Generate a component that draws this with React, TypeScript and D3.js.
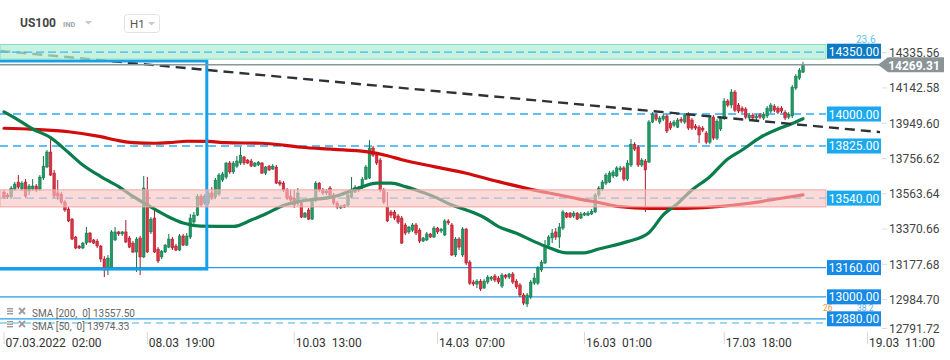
import { useEffect, useRef } from 'react';
import * as d3 from 'd3';

const width = 950;
const height = 360;

// US100 H1 candles from 07.03.2022 02:00, [open, high, low, close]
const candles: [number, number, number, number][] = [
  [13573, 13584, 13535, 13546], [13557, 13568, 13535, 13546], [13546, 13606, 13535, 13595], [13590, 13628, 13579, 13617],
  [13628, 13666, 13590, 13600], [13590, 13633, 13579, 13622], [13628, 13644, 13540, 13551], [13579, 13617, 13557, 13606],
  [13590, 13644, 13579, 13606], [13606, 13617, 13573, 13584], [13590, 13666, 13579, 13655], [13650, 13770, 13639, 13715],
  [13710, 13803, 13705, 13792], [13792, 13868, 13661, 13666], [13677, 13694, 13540, 13551], [13568, 13639, 13529, 13551],
  [13562, 13573, 13507, 13518], [13518, 13529, 13464, 13475], [13480, 13491, 13409, 13415], [13425, 13431, 13311, 13316],
  [13327, 13333, 13261, 13267], [13278, 13283, 13261, 13267], [13267, 13300, 13261, 13294], [13294, 13382, 13283, 13349],
  [13349, 13355, 13294, 13300], [13311, 13316, 13289, 13294], [13305, 13316, 13267, 13278], [13278, 13283, 13190, 13207],
  [13207, 13223, 13108, 13147], [13147, 13229, 13119, 13212], [13152, 13365, 13147, 13355], [13311, 13382, 13305, 13355],
  [13355, 13360, 13333, 13344], [13344, 13360, 13333, 13355], [13355, 13420, 13294, 13300], [13322, 13333, 13267, 13272],
  [13294, 13305, 13240, 13245], [13245, 13327, 13136, 13316], [13322, 13333, 13119, 13218], [13218, 13661, 13212, 13595],
  [13584, 13655, 13240, 13245], [13355, 13436, 13344, 13425], [13431, 13486, 13240, 13245], [13261, 13272, 13185, 13196],
  [13218, 13256, 13207, 13250], [13245, 13289, 13240, 13283], [13272, 13344, 13267, 13316], [13316, 13327, 13256, 13267],
  [13278, 13289, 13250, 13256], [13256, 13344, 13250, 13333], [13333, 13344, 13278, 13283], [13283, 13349, 13278, 13333],
  [13327, 13453, 13316, 13431], [13409, 13464, 13398, 13447], [13447, 13562, 13442, 13551], [13551, 13562, 13491, 13502],
  [13513, 13562, 13502, 13551], [13513, 13584, 13502, 13568], [13568, 13600, 13529, 13546], [13546, 13650, 13535, 13639],
  [13562, 13677, 13551, 13666], [13639, 13683, 13628, 13672], [13655, 13737, 13644, 13732], [13732, 13743, 13672, 13683],
  [13683, 13743, 13672, 13732], [13715, 13770, 13705, 13743], [13732, 13819, 13721, 13775], [13765, 13770, 13721, 13732],
  [13748, 13754, 13726, 13732], [13743, 13754, 13710, 13715], [13715, 13737, 13710, 13732], [13721, 13743, 13715, 13737],
  [13732, 13737, 13672, 13677], [13677, 13715, 13666, 13710], [13715, 13721, 13688, 13694], [13699, 13726, 13694, 13715],
  [13710, 13721, 13617, 13622], [13628, 13639, 13606, 13617], [13622, 13633, 13573, 13584], [13584, 13595, 13529, 13540],
  [13551, 13584, 13513, 13529], [13540, 13584, 13486, 13502], [13513, 13595, 13497, 13568], [13513, 13524, 13431, 13436],
  [13436, 13464, 13431, 13458], [13475, 13486, 13420, 13425], [13425, 13540, 13420, 13529], [13529, 13633, 13518, 13622],
  [13622, 13628, 13573, 13584], [13584, 13595, 13557, 13568], [13568, 13590, 13557, 13579], [13595, 13606, 13546, 13557],
  [13557, 13568, 13502, 13513], [13513, 13524, 13480, 13491], [13486, 13502, 13480, 13497], [13502, 13507, 13486, 13491],
  [13502, 13568, 13491, 13557], [13546, 13655, 13540, 13584], [13573, 13611, 13568, 13600], [13600, 13606, 13573, 13584],
  [13600, 13655, 13590, 13644], [13644, 13721, 13639, 13710], [13650, 13857, 13644, 13814], [13814, 13825, 13765, 13775],
  [13775, 13786, 13721, 13732], [13748, 13759, 13573, 13584], [13584, 13595, 13507, 13518], [13491, 13573, 13409, 13415],
  [13464, 13475, 13431, 13447], [13464, 13475, 13420, 13431], [13442, 13453, 13398, 13409], [13431, 13442, 13289, 13294],
  [13393, 13404, 13338, 13349], [13355, 13387, 13344, 13382], [13365, 13404, 13355, 13393], [13393, 13404, 13338, 13349],
  [13365, 13376, 13294, 13305], [13305, 13327, 13300, 13322], [13311, 13355, 13305, 13344], [13344, 13349, 13322, 13327],
  [13327, 13387, 13322, 13376], [13376, 13382, 13344, 13355], [13360, 13376, 13349, 13371], [13338, 13425, 13333, 13415],
  [13415, 13425, 13393, 13404], [13393, 13404, 13223, 13229], [13229, 13327, 13218, 13316], [13316, 13327, 13256, 13272],
  [13229, 13382, 13218, 13371], [13371, 13376, 13174, 13185], [13190, 13201, 13065, 13075], [13081, 13092, 13059, 13070],
  [13070, 13097, 13048, 13086], [13086, 13097, 13032, 13043], [13048, 13097, 13043, 13086], [13081, 13119, 13070, 13108],
  [13097, 13114, 13086, 13108], [13114, 13125, 13081, 13092], [13103, 13114, 13070, 13081], [13059, 13130, 13048, 13119],
  [13119, 13125, 13097, 13108], [13108, 13130, 13097, 13125], [13125, 13136, 13070, 13081], [13086, 13097, 13043, 13054],
  [13065, 13075, 12999, 13010], [13010, 13021, 12955, 12966], [12961, 13021, 12944, 13010], [12999, 13092, 12988, 13081],
  [13075, 13130, 13065, 13103], [13075, 13168, 13065, 13157], [13147, 13201, 13136, 13190], [13185, 13311, 13179, 13283],
  [13283, 13338, 13272, 13327], [13322, 13371, 13294, 13349], [13355, 13376, 13311, 13327], [13327, 13404, 13267, 13382],
  [13376, 13475, 13365, 13464], [13458, 13464, 13431, 13436], [13458, 13464, 13431, 13436], [13442, 13469, 13431, 13458],
  [13458, 13464, 13420, 13425], [13431, 13464, 13425, 13453], [13447, 13464, 13442, 13458], [13447, 13469, 13442, 13458],
  [13453, 13480, 13447, 13469], [13464, 13568, 13458, 13557], [13557, 13606, 13546, 13595], [13590, 13639, 13579, 13628],
  [13622, 13677, 13611, 13666], [13628, 13688, 13622, 13677], [13661, 13694, 13650, 13683], [13661, 13715, 13655, 13705],
  [13694, 13715, 13683, 13705], [13705, 13715, 13633, 13644], [13644, 13748, 13633, 13732], [13721, 13863, 13710, 13835],
  [13835, 13846, 13797, 13808], [13819, 13830, 13710, 13721], [13721, 13759, 13710, 13748], [13743, 13754, 13464, 13694],
  [13737, 13967, 13732, 13956], [13956, 14010, 13950, 13999], [13994, 14005, 13961, 13972], [13956, 13989, 13945, 13978],
  [13972, 13999, 13961, 13989], [13989, 13999, 13896, 13907], [13950, 13961, 13912, 13923], [13939, 13967, 13928, 13956],
  [13928, 13978, 13923, 13967], [13972, 13983, 13950, 13961], [13956, 14005, 13945, 13994], [13999, 14010, 13912, 13923],
  [13967, 13978, 13912, 13923], [13934, 13945, 13912, 13923], [13928, 13939, 13841, 13885], [13923, 13934, 13901, 13912],
  [13896, 13907, 13835, 13846], [13846, 13989, 13835, 13978], [13983, 13994, 13857, 13868], [13868, 13972, 13857, 13961],
  [13918, 13989, 13907, 13978], [13978, 14087, 13967, 14071], [14071, 14082, 14038, 14049], [14049, 14136, 14032, 14120],
  [14120, 14131, 14010, 14021], [14049, 14060, 14005, 14016], [14032, 14043, 14005, 14016], [14027, 14038, 13972, 13983],
  [13978, 14005, 13967, 13994], [13994, 14005, 13967, 13978], [13978, 13999, 13967, 13989], [13994, 14005, 13972, 13983],
  [13978, 14010, 13967, 13999], [13989, 14043, 13978, 14032], [14016, 14060, 14005, 14049], [14043, 14054, 14010, 14021],
  [14032, 14043, 13999, 14010], [14032, 14043, 14005, 14016], [14010, 14021, 13967, 13978], [13983, 14010, 13972, 13999],
  [13989, 14158, 13978, 14147], [14142, 14218, 14131, 14207], [14196, 14251, 14186, 14240], [14229, 14284, 14224, 14269.31],
];

// moving averages at these bar positions
const sma200Bars = [0, 8, 18, 27, 32, 36, 42, 46, 51, 57, 62, 72, 78, 83, 92, 101, 107, 111, 120, 129, 138, 148, 155, 161, 166, 172, 180, 190, 199, 208, 217, 223];
const sma200Vals = [13922, 13916, 13903, 13876, 13854, 13843, 13840, 13843, 13851, 13850, 13843, 13840, 13830, 13818, 13807, 13794, 13772, 13750, 13712, 13676, 13630, 13584, 13557, 13533, 13516, 13493, 13484, 13484, 13493, 13512, 13539, 13557.5];
const sma50Bars = [0, 4, 8, 13, 18, 22, 27, 32, 36, 41, 46, 50, 55, 64, 69, 73, 78, 83, 92, 99, 104, 108, 112, 115, 120, 125, 129, 134, 138, 143, 148, 152, 157, 162, 166, 174, 180, 184, 188, 192, 197, 202, 206, 211, 216, 220, 223];
const sma50Vals = [14012, 13967, 13918, 13871, 13789, 13721, 13658, 13603, 13549, 13491, 13437, 13404, 13387, 13385, 13420, 13453, 13500, 13524, 13548, 13595, 13622, 13622, 13603, 13584, 13548, 13502, 13475, 13434, 13384, 13348, 13302, 13270, 13240, 13241, 13262, 13302, 13351, 13448, 13510, 13584, 13657, 13754, 13803, 13871, 13918, 13948, 13974.33];

const priceTicks = [14335.56, 14142.58, 13949.6, 13756.62, 13563.64, 13370.66, 13177.68, 12984.7, 12791.72];
const timeLabels = ['07.03.2022  02:00', '08.03  19:00', '10.03  13:00', '14.03  07:00', '16.03  01:00', '17.03  18:00', '19.03  11:00'];
const timeBars = [0, 40, 81, 121, 162, 201, 241];

const resistance = 14350;
const dashedLevels = [14000, 13825, 13540];
const solidLevels = [13160, 13000, 12880];
const lastPrice = 14269.31;
const greenZone = [14300, 14380];
const redZone = [13492, 13585];
const fibValues = [14338, 12857];
const fibNames = ['23.6', '38.2'];
const trendBars = [-1, 244.5];
const trendPrices = [14345, 13901];
const boxBars = [-2, 56.6];
const boxPrices = [14290, 13152];

const font = 'Roboto, "Noto Sans", sans-serif';

export default function App() {
  const svgRef = useRef<SVGSVGElement>(null);

  useEffect(() => {
    if (!svgRef.current) return;
    const svg = d3.select(svgRef.current);
    svg.selectAll('*').remove();

    const plotRight = 826;
    const x = d3.scaleLinear().domain([0, candles.length - 1]).range([4, 803]);
    const y = d3.scaleLinear().domain([13000, 14000]).range([296.85, 114]);

    svg.append('rect').attr('width', width).attr('height', height).attr('fill', '#fff');

    // price levels
    dashedLevels.forEach(v => {
      svg.append('line')
        .attr('x1', 0).attr('x2', plotRight)
        .attr('y1', y(v)).attr('y2', y(v))
        .attr('stroke', '#2eacef').attr('stroke-width', 1.3)
        .attr('stroke-dasharray', '8,5');
    });
    solidLevels.forEach(v => {
      svg.append('line')
        .attr('x1', 0).attr('x2', plotRight)
        .attr('y1', y(v)).attr('y2', y(v))
        .attr('stroke', '#2a9be9').attr('stroke-width', 1.3);
    });
    svg.append('line')
      .attr('x1', 0).attr('x2', plotRight)
      .attr('y1', y(fibValues[1])).attr('y2', y(fibValues[1]))
      .attr('stroke', '#3fb6ee').attr('stroke-width', 1.2)
      .attr('stroke-dasharray', '7,5');

    // candles
    const bw = 2.6;
    const g = svg.append('g');
    candles.forEach((d, i) => {
      const [o, h, l, c] = d;
      const up = c >= o;
      const cx = x(i);
      g.append('line')
        .attr('x1', cx).attr('x2', cx)
        .attr('y1', y(h)).attr('y2', y(l))
        .attr('stroke', up ? '#0e7347' : '#a8182a').attr('stroke-width', 1);
      g.append('rect')
        .attr('x', cx - bw / 2)
        .attr('y', y(Math.max(o, c)))
        .attr('width', bw)
        .attr('height', Math.max(1, Math.abs(y(o) - y(c))))
        .attr('fill', up ? '#1f9a66' : '#df3140')
        .attr('stroke', up ? '#0e7347' : '#a8182a')
        .attr('stroke-width', 0.5);
    });

    // SMA lines
    const smaLine = d3.line<number>()
      .curve(d3.curveMonotoneX);
    svg.append('path')
      .attr('d', smaLine.x(b => x(b)).y((_, i) => y(sma200Vals[i]))(sma200Bars))
      .attr('fill', 'none').attr('stroke', '#d10c0c').attr('stroke-width', 3.2)
      .attr('stroke-linecap', 'round');
    svg.append('path')
      .attr('d', smaLine.x(b => x(b)).y((_, i) => y(sma50Vals[i]))(sma50Bars))
      .attr('fill', 'none').attr('stroke', '#0a7d4d').attr('stroke-width', 3.2)
      .attr('stroke-linecap', 'round');

    // trend line
    svg.append('line')
      .attr('x1', x(trendBars[0])).attr('y1', y(trendPrices[0]))
      .attr('x2', x(trendBars[1])).attr('y2', y(trendPrices[1]))
      .attr('stroke', '#2c3235').attr('stroke-width', 2.4)
      .attr('stroke-dasharray', '10,6');

    // range box
    svg.append('rect')
      .attr('x', x(boxBars[0])).attr('y', y(boxPrices[0]))
      .attr('width', x(boxBars[1]) - x(boxBars[0]))
      .attr('height', y(boxPrices[1]) - y(boxPrices[0]))
      .attr('fill', 'none').attr('stroke', '#15a0ea').attr('stroke-width', 3);

    // zones
    svg.append('rect')
      .attr('x', 0).attr('y', y(redZone[1]))
      .attr('width', plotRight).attr('height', y(redZone[0]) - y(redZone[1]))
      .attr('fill', 'rgb(248,196,196)').attr('fill-opacity', 0.62)
      .attr('stroke', '#f3a3a3').attr('stroke-width', 1);
    svg.append('rect')
      .attr('x', 0).attr('y', y(greenZone[1]))
      .attr('width', plotRight).attr('height', y(greenZone[0]) - y(greenZone[1]))
      .attr('fill', 'rgb(180,236,214)').attr('fill-opacity', 0.75)
      .attr('stroke', '#8fd9bf').attr('stroke-width', 1);
    svg.append('line')
      .attr('x1', 0).attr('x2', plotRight)
      .attr('y1', y(fibValues[0])).attr('y2', y(fibValues[0]))
      .attr('stroke', '#3dbde9').attr('stroke-width', 1.2)
      .attr('stroke-dasharray', '8,4');

    // last price line
    svg.append('line')
      .attr('x1', 0).attr('x2', 880)
      .attr('y1', y(lastPrice)).attr('y2', y(lastPrice))
      .attr('stroke', '#8c9699').attr('stroke-width', 1.4);

    // fibonacci tags, squeezed next to the level labels
    svg.append('text').attr('x', 856).attr('y', 42.5)
      .attr('font-family', font).attr('font-size', 10).attr('fill', '#5cc2ef')
      .text(fibNames[0]);
    svg.append('text').attr('x', 823).attr('y', 311)
      .attr('font-family', font).attr('font-size', 8.5).attr('fill', '#f29a2e')
      .text('26');
    svg.append('text').attr('x', 857).attr('y', 311)
      .attr('font-family', font).attr('font-size', 8.5).attr('fill', '#5cb0ef')
      .text(fibNames[1]);

    // level labels
    const tag = (v: number, fill: string, dy = 0) => {
      const cy = y(v) + dy;
      svg.append('rect')
        .attr('x', 827).attr('y', cy - 7.5)
        .attr('width', 54).attr('height', 15)
        .attr('fill', fill);
      svg.append('text')
        .attr('x', 854).attr('y', cy + 0.5)
        .attr('text-anchor', 'middle').attr('dominant-baseline', 'central')
        .attr('font-family', font).attr('font-size', 12).attr('fill', '#fff')
        .text(v.toFixed(2));
    };
    tag(resistance, '#0b7ac2', 1.2);
    dashedLevels.forEach(v => tag(v, '#1aa9ee'));
    solidLevels.forEach(v => tag(v, '#178ae6'));

    // price axis
    priceTicks.forEach(v => {
      const ty = Math.min(y(v), 328.5);
      svg.append('line')
        .attr('x1', 882).attr('x2', 887)
        .attr('y1', ty).attr('y2', ty)
        .attr('stroke', '#ddd');
      svg.append('text')
        .attr('x', 889).attr('y', ty + 0.3)
        .attr('dominant-baseline', 'central')
        .attr('font-family', font).attr('font-size', 12).attr('fill', '#444')
        .text(v.toFixed(2));
    });

    // last price marker
    const ly = y(lastPrice);
    svg.append('path')
      .attr('d', `M878,${ly} L888,${ly - 7.5} L944,${ly - 7.5} L944,${ly + 7.5} L888,${ly + 7.5} Z`)
      .attr('fill', '#8a9497');
    svg.append('text')
      .attr('x', 914).attr('y', ly + 1)
      .attr('text-anchor', 'middle').attr('dominant-baseline', 'central')
      .attr('font-family', font).attr('font-size', 12).attr('font-weight', 'bold')
      .attr('fill', '#fff')
      .text(lastPrice.toFixed(2));

    // time axis
    timeBars.forEach((b, i) => {
      const tx = x(b);
      svg.append('line')
        .attr('x1', tx).attr('x2', tx)
        .attr('y1', 332).attr('y2', 344)
        .attr('stroke', '#d8d8d8');
      svg.append('text')
        .attr('x', tx + 1.5).attr('y', 346.5)
        .attr('font-family', font).attr('font-size', 12).attr('fill', '#333')
        .style('white-space', 'pre')
        .text(timeLabels[i]);
    });

    // legend
    const legend = [
      `SMA [200,  0] ${sma200Vals[sma200Vals.length - 1].toFixed(2)}`,
      `SMA [50,  0] ${sma50Vals[sma50Vals.length - 1].toFixed(2)}`,
    ];
    legend.forEach((t, i) => {
      const by = 317 + i * 13;
      [0, 2.5, 5].forEach(o => {
        svg.append('rect')
          .attr('x', 7).attr('y', by - 9 + o)
          .attr('width', 6).attr('height', 1.4)
          .attr('fill', '#9a9a9a');
      });
      svg.append('path')
        .attr('d', `M19,${by - 9} L25,${by - 3} M25,${by - 9} L19,${by - 3}`)
        .attr('stroke', '#9a9a9a').attr('stroke-width', 1.8);
      svg.append('text')
        .attr('x', 32).attr('y', by)
        .attr('font-family', font).attr('font-size', 10).attr('fill', '#666')
        .style('white-space', 'pre')
        .text(t);
    });

    // header
    svg.append('text').attr('x', 20).attr('y', 27)
      .attr('font-family', font).attr('font-size', 12).attr('font-weight', 'bold')
      .attr('fill', '#444').text('US100');
    svg.append('text').attr('x', 63).attr('y', 27)
      .attr('font-family', font).attr('font-size', 7.5).attr('font-weight', 'bold')
      .attr('fill', '#a0a6ab').text('IND');
    svg.append('path').attr('d', 'M85,21 L92,21 L88.5,24.5 Z').attr('fill', '#c8c8c8');
    svg.append('rect')
      .attr('x', 124.5).attr('y', 14.5).attr('width', 35).attr('height', 18).attr('rx', 3)
      .attr('fill', '#fff').attr('stroke', '#e2e2e2');
    svg.append('text').attr('x', 130).attr('y', 27.5)
      .attr('font-family', font).attr('font-size', 11.5).attr('fill', '#555').text('H1');
    svg.append('path').attr('d', 'M148,22 L155,22 L151.5,25.5 Z').attr('fill', '#c8c8c8');
  }, []);

  return (
    <div style={{ position: 'fixed', left: 0, top: 0 }}>
      <svg ref={svgRef} width={width} height={height} style={{ display: 'block' }} />
    </div>
  );
}
